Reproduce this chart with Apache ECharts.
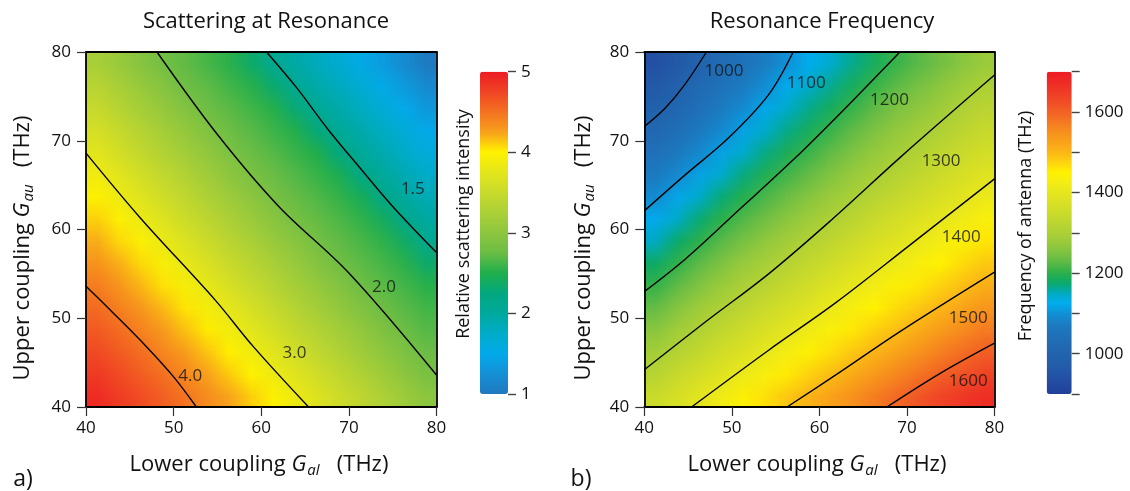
<!DOCTYPE html>
<html>
<head>
<meta charset="utf-8">
<script src="https://cdn.jsdelivr.net/npm/echarts@6/dist/echarts.min.js"></script>
<style>
  html, body { margin: 0; padding: 0; background: #fff; }
  #wrap { position: relative; width: 1130px; height: 491px; overflow: hidden; }
  #chart { position: absolute; left: 0; top: 0; width: 1130px; height: 491px; }
  /* the 16 x 16 cell maps are drawn one pixel per cell, then scaled up smoothly onto the plot areas */
  .field { position: absolute; width: 16px; height: 16px; transform-origin: 0 0; image-rendering: auto; }
  #fieldA { left: 86px; top: 52px; transform: scale(21.906, 22.1875); }
  #fieldB { left: 644.3px; top: 52px; transform: scale(21.8875, 22.1875); }
</style>
</head>
<body>
<div id="wrap">
  <div id="fieldA" class="field"></div>
  <div id="fieldB" class="field"></div>
  <div id="chart"></div>
</div>
<script>
// cell centres (THz) of the 16 x 16 sampling used for both maps
const cellCentres = [41.25, 43.75, 46.25, 48.75, 51.25, 53.75, 56.25, 58.75,
  61.25, 63.75, 66.25, 68.75, 71.25, 73.75, 76.25, 78.75];

// relative scattering intensity; first row = lowest upper coupling
const scatterRows = [
  [4.90, 4.80, 4.70, 4.60, 4.49, 4.36, 4.24, 4.11, 3.98, 3.84, 3.69, 3.55, 3.41, 3.27, 3.13, 2.99],
  [4.81, 4.71, 4.61, 4.51, 4.38, 4.25, 4.12, 3.99, 3.85, 3.71, 3.57, 3.43, 3.29, 3.15, 3.00, 2.86],
  [4.72, 4.62, 4.52, 4.39, 4.27, 4.14, 4.01, 3.87, 3.73, 3.59, 3.44, 3.30, 3.16, 3.02, 2.88, 2.76],
  [4.63, 4.53, 4.41, 4.28, 4.15, 4.02, 3.88, 3.74, 3.60, 3.46, 3.32, 3.18, 3.04, 2.90, 2.77, 2.68],
  [4.54, 4.42, 4.30, 4.17, 4.04, 3.90, 3.76, 3.62, 3.48, 3.34, 3.19, 3.05, 2.91, 2.78, 2.69, 2.61],
  [4.44, 4.31, 4.18, 4.05, 3.92, 3.78, 3.63, 3.49, 3.35, 3.21, 3.07, 2.93, 2.79, 2.70, 2.62, 2.53],
  [4.32, 4.20, 4.07, 3.93, 3.79, 3.65, 3.51, 3.37, 3.23, 3.09, 2.94, 2.80, 2.71, 2.63, 2.54, 2.35],
  [4.21, 4.08, 3.95, 3.81, 3.67, 3.53, 3.38, 3.24, 3.10, 2.96, 2.82, 2.72, 2.64, 2.55, 2.38, 2.12],
  [4.10, 3.97, 3.82, 3.68, 3.54, 3.40, 3.26, 3.12, 2.98, 2.84, 2.73, 2.65, 2.56, 2.41, 2.15, 1.99],
  [3.98, 3.84, 3.70, 3.56, 3.42, 3.28, 3.13, 2.99, 2.85, 2.74, 2.66, 2.57, 2.44, 2.18, 2.00, 1.86],
  [3.86, 3.72, 3.58, 3.44, 3.30, 3.16, 3.01, 2.87, 2.75, 2.67, 2.58, 2.47, 2.21, 2.03, 1.88, 1.74],
  [3.73, 3.59, 3.45, 3.31, 3.17, 3.03, 2.88, 2.76, 2.68, 2.59, 2.50, 2.24, 2.04, 1.90, 1.75, 1.61],
  [3.61, 3.47, 3.33, 3.19, 3.05, 2.91, 2.77, 2.69, 2.60, 2.51, 2.27, 2.06, 1.92, 1.78, 1.63, 1.49],
  [3.48, 3.34, 3.20, 3.06, 2.92, 2.78, 2.70, 2.61, 2.52, 2.30, 2.07, 1.93, 1.79, 1.65, 1.50, 1.33],
  [3.36, 3.22, 3.08, 2.94, 2.79, 2.71, 2.62, 2.53, 2.33, 2.09, 1.95, 1.81, 1.67, 1.53, 1.35, 1.19],
  [3.23, 3.09, 2.95, 2.81, 2.72, 2.63, 2.54, 2.36, 2.10, 1.96, 1.82, 1.68, 1.54, 1.37, 1.20, 1.03]
];

// resonance frequency (THz); first row = lowest upper coupling
const freqRows = [
  [1349, 1372, 1394, 1418, 1442, 1464, 1485, 1505, 1527, 1549, 1570, 1591, 1613, 1635, 1651, 1668],
  [1319, 1343, 1366, 1387, 1410, 1433, 1455, 1475, 1494, 1515, 1537, 1558, 1579, 1600, 1618, 1636],
  [1290, 1314, 1337, 1360, 1381, 1402, 1425, 1446, 1466, 1485, 1503, 1524, 1546, 1567, 1586, 1603],
  [1261, 1286, 1309, 1332, 1354, 1375, 1395, 1417, 1438, 1458, 1476, 1493, 1512, 1534, 1554, 1572],
  [1233, 1258, 1282, 1304, 1327, 1348, 1368, 1389, 1410, 1431, 1449, 1467, 1484, 1500, 1521, 1541],
  [1205, 1230, 1255, 1278, 1300, 1321, 1342, 1362, 1383, 1403, 1423, 1441, 1458, 1475, 1492, 1510],
  [1177, 1203, 1228, 1252, 1274, 1294, 1315, 1336, 1356, 1377, 1397, 1414, 1432, 1449, 1467, 1483],
  [1149, 1175, 1201, 1225, 1247, 1268, 1289, 1309, 1330, 1350, 1371, 1389, 1406, 1424, 1441, 1459],
  [1121, 1146, 1172, 1199, 1221, 1242, 1263, 1283, 1303, 1324, 1345, 1364, 1382, 1398, 1416, 1434],
  [1094, 1118, 1144, 1171, 1195, 1217, 1238, 1258, 1279, 1298, 1319, 1339, 1357, 1375, 1392, 1409],
  [1068, 1091, 1115, 1143, 1169, 1192, 1212, 1233, 1255, 1275, 1294, 1314, 1333, 1352, 1370, 1387],
  [1042, 1065, 1089, 1115, 1143, 1167, 1189, 1208, 1231, 1252, 1272, 1290, 1309, 1329, 1347, 1365],
  [1016, 1039, 1067, 1090, 1116, 1143, 1166, 1186, 1207, 1230, 1251, 1270, 1287, 1305, 1325, 1343],
  [990, 1013, 1044, 1070, 1092, 1119, 1144, 1165, 1185, 1207, 1229, 1249, 1266, 1284, 1303, 1322],
  [964, 988, 1022, 1049, 1071, 1096, 1122, 1144, 1164, 1186, 1207, 1228, 1246, 1264, 1282, 1300],
  [938, 963, 999, 1028, 1050, 1075, 1100, 1123, 1143, 1165, 1186, 1207, 1225, 1243, 1261, 1279]
];

// contour lines [lower, upper] in THz
const scatter40 = [[40, 53.6], [43.1, 50.6], [46.9, 46.8], [50.0, 43.4], [52.6, 40]];
const scatter30 = [[40, 68.6], [46.2, 61.3], [54.7, 52.1], [59.1, 46.8], [65.4, 40]];
const scatter20 = [[48.1, 80], [55.0, 70.7], [62.0, 62.6], [70.0, 55.1], [80, 43.6]];
const scatter15 = [[60.6, 80], [64.1, 75.9], [67.6, 71.3], [71.3, 66.9], [75.0, 62.6], [80, 57.4]];
const scatterLabels = [[51.9, 43.5, '4.0'], [63.8, 46.1, '3.0'], [74.0, 53.5, '2.0'], [77.3, 64.5, '1.5']];

const freq1000 = [[40, 71.6], [42.4, 73.7], [44.6, 76.3], [47.1, 80]];
const freq1100 = [[40, 62.1], [44.6, 66.1], [49.6, 70.3], [54.2, 75.2], [57.0, 80]];
const freq1200 = [[40, 53.0], [44.6, 56.6], [49.6, 61.1], [57.8, 68.6], [61.8, 72.5], [69.2, 80]];
const freq1300 = [[40, 44.2], [47.0, 49.6], [54.2, 55.0], [61.4, 61.1], [69.2, 68.1], [80, 77.4]];
const freq1400 = [[45.4, 40], [54.2, 46.4], [61.8, 51.7], [70.4, 58.3], [80, 65.7]];
const freq1500 = [[56.3, 40], [62.0, 43.7], [69.2, 48.5], [80, 55.2]];
const freq1600 = [[67.7, 40], [73.8, 43.8], [80, 47.2]];
const freqLabels = [[49.1, 77.8, '1000'], [58.5, 76.5, '1100'], [68.0, 74.6, '1200'], [73.9, 67.7, '1300'],
  [76.2, 59.1, '1400'], [77.0, 50.0, '1500'], [77.0, 42.9, '1600']];

// colour scales, evenly spaced from min to max
const scatterColors = ['#1f78be', '#1590d4', '#03aaea', '#00acc8', '#00a99d', '#03a87f', '#1fae4b', '#6bbd45',
  '#8dc63f', '#abd037', '#c8da2c', '#e4e61c', '#fff200', '#f8a01c', '#f47221', '#f04424', '#ed1c24'];
const freqColors = ['#213f99', '#224aa0', '#2355a6', '#235ea9', '#2263ae', '#216bb3', '#1f72b9', '#1b7dc2',
  '#1190d6', '#00aeef', '#00aac0', '#0aaa6a', '#2bb04a', '#5ab947', '#7dc242', '#98ca3c', '#acd036',
  '#bcd531', '#cbdb2b', '#d9e024', '#e6e61e', '#f5ed14', '#fff200', '#fdd20f', '#fbb616', '#f9a21a',
  '#f7901d', '#f57821', '#f26125', '#f04c26', '#ef3a26', '#ee2a25', '#ed1c24'];

const FONT = "'Open Sans', 'Noto Sans', sans-serif";

function toCells (rows) {
  let out = [];
  rows.forEach(function (row, j) {
    row.forEach(function (v, i) { out.push([i, j, v]); });
  });
  return out;
}

// one pixel per cell map
function drawField (id, rows, min, max, colors) {
  let fieldChart = echarts.init(document.getElementById(id), null, { renderer: 'canvas', devicePixelRatio: 1 });
  fieldChart.setOption({
    animation: false,
    grid: { left: 0, right: 0, top: 0, bottom: 0 },
    xAxis: { type: 'category', data: cellCentres, show: false },
    yAxis: { type: 'category', data: cellCentres, show: false },
    visualMap: { show: false, seriesIndex: 0, dimension: 2, min: min, max: max, inRange: { color: colors } },
    series: [{
      type: 'custom', data: toCells(rows), encode: { x: 0, y: 1 }, silent: true,
      renderItem: function (params, api) {
        let c = api.coord([api.value(0), api.value(1)]);
        let s = api.size([1, 1]);
        return {
          type: 'rect',
          shape: { x: c[0] - s[0] / 2, y: c[1] - s[1] / 2, width: s[0], height: s[1] },
          style: { fill: api.visual('color') }
        };
      }
    }]
  });
}
drawField('fieldA', scatterRows, 1, 5, scatterColors);
drawField('fieldB', freqRows, 900, 1700, freqColors);

function contour (pts, axis) {
  return {
    type: 'line', data: pts, xAxisIndex: axis, yAxisIndex: axis,
    symbol: 'none', smooth: 0.35, silent: true, z: 4,
    lineStyle: { color: '#000', width: 1.4 }
  };
}

function contourText (pts, axis) {
  return {
    type: 'scatter', data: pts, xAxisIndex: axis, yAxisIndex: axis,
    symbolSize: 1, silent: true, z: 5,
    itemStyle: { color: 'rgba(0,0,0,0)' },
    label: {
      show: true, position: 'inside', color: '#111', fontSize: 17, fontFamily: FONT,
      formatter: function (p) { return p.value[2]; }
    }
  };
}

// frame axes (top / right) and value axes (ticks, contours)
function frameAxis (grid, pos) {
  return {
    type: 'value', gridIndex: grid, min: 40, max: 80, position: pos, z: 6,
    axisLine: { show: true, onZero: false, lineStyle: { color: '#000', width: 1.8 } },
    axisTick: { show: false }, axisLabel: { show: false }, splitLine: { show: false }
  };
}
function valueAxis (grid, pos, margin) {
  return {
    type: 'value', gridIndex: grid, min: 40, max: 80, interval: 10, position: pos, z: 6,
    axisLine: { show: true, onZero: false, lineStyle: { color: '#000', width: 1.8 } },
    axisTick: { show: true, length: 9, lineStyle: { color: '#333', width: 1.2 } },
    axisLabel: { color: '#111', fontSize: 17, fontFamily: FONT, margin: margin },
    splitLine: { show: false }
  };
}
// colour bar scales: the grid starts at the bar's right edge, ticks and labels point right
function barAxis (grid, min, max, step, labelStep) {
  return {
    type: 'value', gridIndex: grid, min: min, max: max, interval: step, position: 'left', z: 6,
    axisLine: { show: false },
    axisTick: { show: true, inside: true, length: 8, lineStyle: { color: '#444', width: 1.4 } },
    axisLabel: {
      inside: true, color: '#111', fontSize: 17, fontFamily: FONT, margin: 13,
      showMinLabel: true, showMaxLabel: true,
      formatter: function (v) { return v % labelStep === 0 ? String(v) : ''; }
    },
    splitLine: { show: false }
  };
}
function hiddenAxis (grid) {
  return { type: 'value', gridIndex: grid, min: 0, max: 1, show: false };
}

function axisName (x, y, word, sub, rotate) {
  return {
    type: 'text', x: x, y: y, rotation: rotate ? Math.PI / 2 : 0,
    style: {
      text: '{n|' + word + ' coupling }{i|G}{s|' + sub + '}{n|   (THz)}',
      align: 'center', verticalAlign: 'middle', textAlign: 'center', textVerticalAlign: 'middle',
      fill: '#111',
      rich: {
        n: { fontSize: 22, fontFamily: FONT, color: '#111' },
        i: { fontSize: 22, fontFamily: FONT, fontStyle: 'italic', color: '#111' },
        s: { fontSize: 15, fontFamily: FONT, fontStyle: 'italic', color: '#111', padding: [11, 0, 0, 1] }
      }
    }
  };
}
function plainText (x, y, text, size, rotate) {
  return {
    type: 'text', x: x, y: y, rotation: rotate ? Math.PI / 2 : 0,
    style: {
      text: text, fill: '#111', font: size + 'px ' + FONT,
      align: 'center', verticalAlign: 'middle', textAlign: 'center', textVerticalAlign: 'middle'
    }
  };
}

let myChart = echarts.init(document.getElementById('chart'), null, { devicePixelRatio: 1 });
myChart.setOption({
  animation: false,
  backgroundColor: 'transparent',
  grid: [
    { left: 86, top: 52, width: 350.5, height: 355 },
    { left: 644.3, top: 52, width: 350.2, height: 355 },
    { left: 508, top: 71.7, width: 40, height: 322.3 },
    { left: 1071.7, top: 71.7, width: 55, height: 322.3 }
  ],
  xAxis: [frameAxis(0, 'top'), valueAxis(0, 'bottom', 13), frameAxis(1, 'top'), valueAxis(1, 'bottom', 13),
    hiddenAxis(2), hiddenAxis(3)],
  yAxis: [frameAxis(0, 'right'), valueAxis(0, 'left', 15), frameAxis(1, 'right'), valueAxis(1, 'left', 15),
    barAxis(2, 1, 5, 1, 1), barAxis(3, 900, 1700, 100, 200)],
  visualMap: [
    {
      type: 'continuous', seriesIndex: [], min: 1, max: 5, calculable: false, hoverLink: false,
      left: 480, top: 71.7, itemWidth: 28, itemHeight: 322.3, padding: 0,
      inRange: { color: scatterColors }
    },
    {
      type: 'continuous', seriesIndex: [], min: 900, max: 1700, calculable: false, hoverLink: false,
      left: 1046.7, top: 71.7, itemWidth: 25, itemHeight: 322.3, padding: 0,
      inRange: { color: freqColors }
    }
  ],
  series: [
    contour(scatter40, 1), contour(scatter30, 1), contour(scatter20, 1), contour(scatter15, 1),
    contourText(scatterLabels, 1),
    contour(freq1000, 3), contour(freq1100, 3), contour(freq1200, 3), contour(freq1300, 3),
    contour(freq1400, 3), contour(freq1500, 3), contour(freq1600, 3),
    contourText(freqLabels, 3)
  ],
  graphic: [
    plainText(266, 22, 'Scattering at Resonance', 22),
    plainText(822, 22, 'Resonance Frequency', 22),
    axisName(259, 465, 'Lower', 'al', false),
    axisName(817, 465, 'Lower', 'al', false),
    axisName(23, 248, 'Upper', 'au', true),
    axisName(584, 248, 'Upper', 'au', true),
    plainText(464, 224, 'Relative scattering intensity', 18, true),
    plainText(1026, 226, 'Frequency of antenna (THz)', 18, true),
    plainText(23, 479, 'a)', 23),
    plainText(581, 479, 'b)', 23)
  ]
});
</script>
</body>
</html>
